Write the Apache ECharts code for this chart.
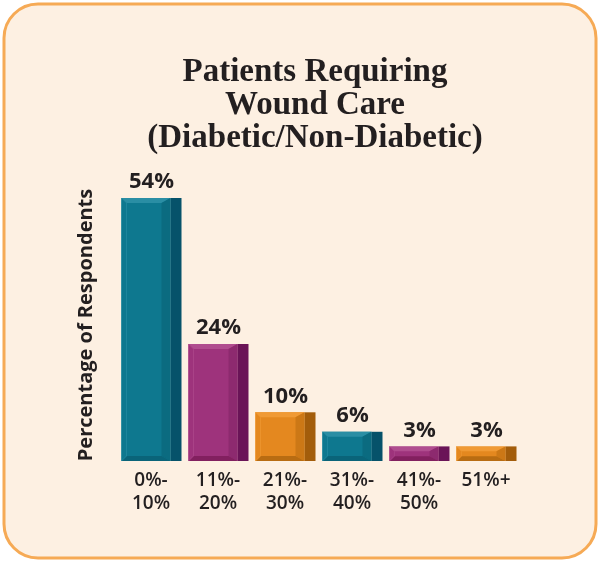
<!DOCTYPE html>
<html>
<head>
<meta charset="utf-8">
<script src="https://cdn.jsdelivr.net/npm/echarts@6/dist/echarts.min.js"></script>
<style>
  html, body { margin: 0; padding: 0; background: #ffffff; }
  #chart { width: 600px; height: 562px; }
</style>
</head>
<body>
<div id="chart"></div>
<script>
const categories = ['0%-\n10%', '11%-\n20%', '21%-\n30%', '31%-\n40%', '41%-\n50%', '51%+'];
const values = [54, 24, 10, 6, 3, 3];
const valueLabels = ['54%', '24%', '10%', '6%', '3%', '3%'];

// front / side / light / dark per bar
const palette = [
  { front: '#0e788f', side: '#06526a', light: '#2a8ea4', dark: '#0a6479', edge: '#0b6b80' },
  { front: '#9e337c', side: '#6a1457', light: '#b04d8f', dark: '#82205f', edge: '#8d2a6f' },
  { front: '#e4881f', side: '#a35d0b', light: '#f09a35', dark: '#b86c12', edge: '#cc7816' }
];

const chart = echarts.init(document.getElementById('chart'));

function renderBar(params, api) {
  const idx = api.value(0);
  const top = api.coord([idx, api.value(1)]);
  const base = api.coord([idx, 0]);
  const c = palette[idx % 3];
  const full = 60, sideW = 11, frontW = full - sideW;
  const x0 = top[0] - full / 2 + 0.5;
  const y0 = top[1], y1 = base[1];
  const h = y1 - y0;
  const b = Math.min(5, h / 3);
  const br = Math.min(9, frontW / 4);
  const x1 = x0 + frontW;
  return {
    type: 'group',
    children: [
      { type: 'rect', shape: { x: x0, y: y0, width: frontW, height: h }, style: { fill: c.front } },
      { type: 'rect', shape: { x: x1, y: y0, width: sideW, height: h }, style: { fill: c.side } },
      // top bevel
      { type: 'polygon', shape: { points: [[x0, y0], [x1, y0], [x1 - br, y0 + b], [x0 + b, y0 + b]] }, style: { fill: c.light } },
      // right bevel
      { type: 'polygon', shape: { points: [[x1, y0], [x1, y1], [x1 - br, y1 - b], [x1 - br, y0 + b]] }, style: { fill: c.edge } },
      // bottom bevel
      { type: 'polygon', shape: { points: [[x0, y1], [x1, y1], [x1 - br, y1 - b], [x0 + b, y1 - b]] }, style: { fill: c.dark } },
      // left edge highlight
      { type: 'polygon', shape: { points: [[x0, y0], [x0 + b, y0 + b], [x0 + b, y1 - b], [x0, y1]] }, style: { fill: c.front, stroke: c.light, lineWidth: 0.6 } },
      {
        type: 'text',
        style: {
          text: valueLabels[idx],
          x: x0 + full / 2,
          y: y0 - 5,
          textAlign: 'center',
          textVerticalAlign: 'bottom',
          fill: '#231f20',
          font: 'bold 22px "Open Sans"'
        }
      }
    ]
  };
}

chart.setOption({
  backgroundColor: '#ffffff',
  animation: false,
  graphic: [
    {
      type: 'rect',
      z: -10,
      shape: { x: 4, y: 4, width: 592, height: 554, r: 34 },
      style: { fill: '#fdf0e2', stroke: '#f6aa55', lineWidth: 3 }
    },
    {
      type: 'text',
      x: 315, y: 56,
      style: {
        text: 'Patients Requiring\nWound Care\n(Diabetic/Non-Diabetic)',
        textAlign: 'center',
        fill: '#231f20',
        font: 'bold 33px "Liberation Serif"',
        lineHeight: 33
      }
    },
    {
      type: 'text',
      x: 86, y: 325,
      rotation: Math.PI / 2,
      style: {
        text: 'Percentage of Respondents',
        textAlign: 'center',
        textVerticalAlign: 'middle',
        fill: '#231f20',
        font: 'bold 20px "Open Sans"'
      }
    }
  ],
  grid: { left: 117.5, right: 80.5, top: 198, bottom: 101 },
  xAxis: {
    type: 'category',
    data: categories,
    axisLine: { show: false },
    axisTick: { show: false },
    axisLabel: {
      margin: 8,
      color: '#231f20',
      fontSize: 19,
      fontWeight: 600,
      fontFamily: 'Open Sans',
      lineHeight: 23
    }
  },
  yAxis: {
    type: 'value',
    min: 0,
    max: 54,
    show: false
  },
  series: [
    {
      type: 'custom',
      renderItem: renderBar,
      data: values.map((v, i) => [i, v])
    }
  ]
});
</script>
</body>
</html>
